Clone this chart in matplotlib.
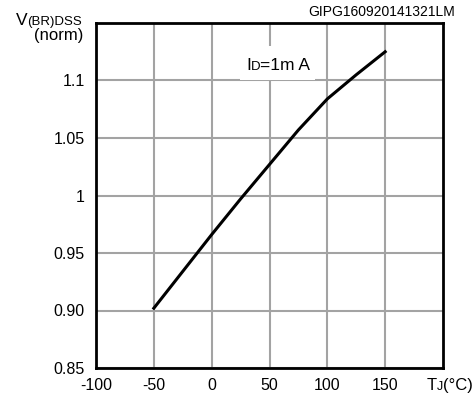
import matplotlib
matplotlib.use("Agg")
import matplotlib.pyplot as plt
from matplotlib.patches import Rectangle

plt.rcParams['font.family'] = ['Liberation Sans', 'DejaVu Sans']

tj = [-50, -25, 0, 25, 50, 75, 100, 125, 150]
vbr = [0.902, 0.934, 0.966, 0.997, 1.027, 1.057, 1.084, 1.105, 1.125]

xticks = [-100, -50, 0, 50, 100, 150]
yticks = [0.85, 0.90, 0.95, 1.0, 1.05, 1.1]
ytick_labels = ["0.85", "0.90", "0.95", "1", "1.05", "1.1"]

W, H = 477, 398
fig = plt.figure(figsize=(W / 100, H / 100), dpi=100)
ax = fig.add_axes([96 / W, 1 - 368 / H, (443 - 96) / W, (368 - 23) / H])
ax.set_xlim(-100, 200)
ax.set_ylim(0.85, 1.15)
ax.set_xticks(xticks)
ax.set_xticklabels([str(v) for v in xticks])
ax.set_yticks(yticks)
ax.set_yticklabels(ytick_labels)
ax.tick_params(length=0, labelsize=11.5)
ax.tick_params(axis='x', pad=7)
ax.tick_params(axis='y', pad=8)
ax.grid(True, color='#a3a3a3', linewidth=1.5)
ax.set_axisbelow(True)
for s in ax.spines.values():
    s.set_linewidth(2.0)
    s.set_color('black')

ax.plot(tj, vbr, color='black', linewidth=2.2, zorder=3)

renderer = fig.canvas.get_renderer()


def chain(x, y, pieces, align='left'):
    """Place text pieces side by side on one baseline (pixel coords)."""
    texts = []
    for s, size in pieces:
        texts.append(fig.text(0, 0, s, fontsize=size, ha='left', va='baseline', zorder=4))
    widths = [t.get_window_extent(renderer).width for t in texts]
    total = sum(widths)
    cx = x - total if align == 'right' else x
    for t, w in zip(texts, widths):
        t.set_position((cx / W, 1 - y / H))
        cx += w
    return texts


# white background behind the annotation (hides grid)
ax.add_patch(Rectangle((0.415, 0.835), 0.215, 0.098, transform=ax.transAxes,
                       facecolor='white', edgecolor='none', zorder=1))

# annotation I_D = 1 mA
chain(246, 70, [("I", 12.5), ("D", 9.5), ("=1m A", 12.5)])

# y-axis label
chain(82, 25, [("V", 12.5), ("(BR)DSS", 9.5)], align='right')
chain(83, 40, [("(norm)", 12)], align='right')

# code label
chain(455, 16, [("GIPG160920141321LM", 10)], align='right')

# x-axis label
chain(427, 390, [("T", 12), ("J", 9), ("(°C)", 12)])

fig.savefig("out.png", dpi=100)
